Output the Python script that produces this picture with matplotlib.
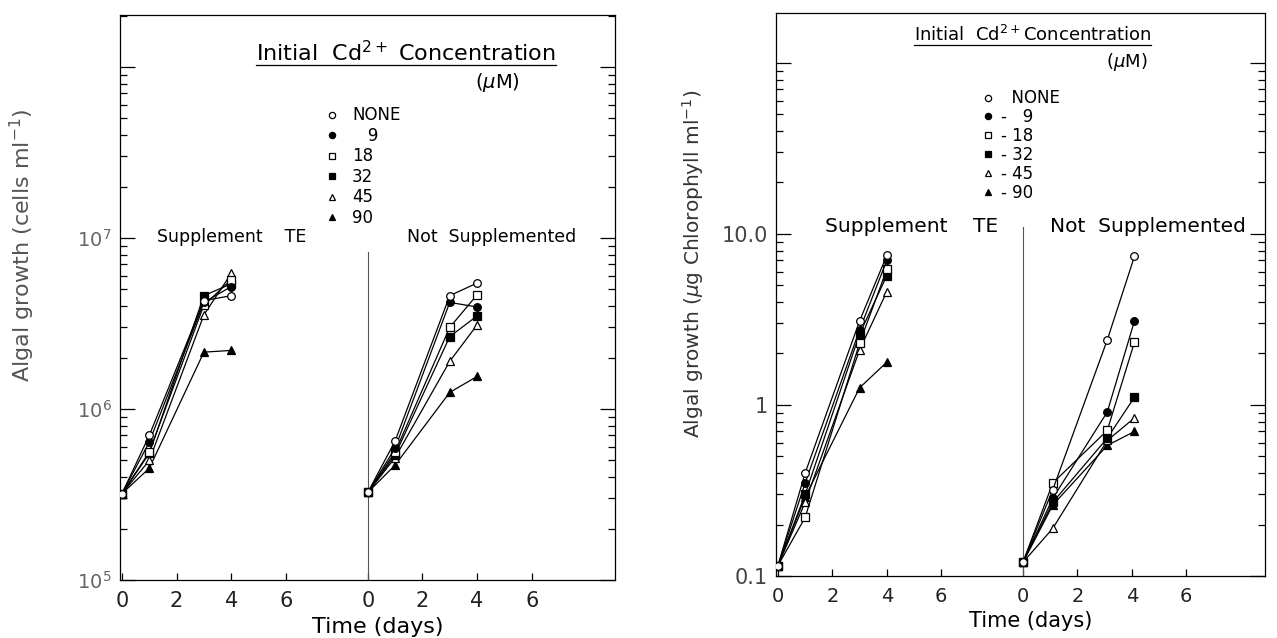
import matplotlib
matplotlib.use("Agg")
import matplotlib.pyplot as plt
from matplotlib.ticker import LogLocator, NullFormatter
from matplotlib.lines import Line2D

plt.rcParams['font.family'] = ['DejaVu Sans']
plt.rcParams['mathtext.fontset'] = 'dejavusans'

# time points (days)
days = [0, 1, 3, 4]
days_ns_chl = [0, 1.1, 3.1, 4.1]

conc_labels = ["NONE", "9", "18", "32", "45", "90"]

# cell counts (cells/ml) - supplement TE
cells_te_none = [3.2e5, 7.0e5, 4.3e6, 4.6e6]
cells_te_9 = [3.2e5, 6.4e5, 4.2e6, 5.2e6]
cells_te_18 = [3.2e5, 5.6e5, 4.05e6, 5.7e6]
cells_te_32 = [3.2e5, 5.5e5, 4.6e6, 5.4e6]
cells_te_45 = [3.2e5, 5.0e5, 3.55e6, 6.2e6]
cells_te_90 = [3.2e5, 4.5e5, 2.15e6, 2.2e6]

# cell counts - not supplemented
cells_ns_none = [3.25e5, 6.5e5, 4.6e6, 5.45e6]
cells_ns_9 = [3.25e5, 5.9e5, 4.2e6, 3.95e6]
cells_ns_18 = [3.25e5, 5.6e5, 3.0e6, 4.65e6]
cells_ns_32 = [3.25e5, 5.4e5, 2.65e6, 3.5e6]
cells_ns_45 = [3.25e5, 5.2e5, 1.9e6, 3.1e6]
cells_ns_90 = [3.25e5, 4.7e5, 1.25e6, 1.55e6]

# chlorophyll (ug/ml) - supplement TE
chl_te_none = [0.115, 0.40, 3.1, 7.5]
chl_te_9 = [0.115, 0.35, 2.75, 7.0]
chl_te_18 = [0.115, 0.22, 2.3, 6.2]
chl_te_32 = [0.115, 0.30, 2.6, 5.7]
chl_te_45 = [0.115, 0.27, 2.1, 4.6]
chl_te_90 = [0.115, 0.29, 1.26, 1.78]

# chlorophyll - not supplemented
chl_ns_none = [0.12, 0.32, 2.4, 7.4]
chl_ns_9 = [0.12, 0.285, 0.91, 3.1]
chl_ns_18 = [0.12, 0.35, 0.71, 2.33]
chl_ns_32 = [0.12, 0.27, 0.64, 1.11]
chl_ns_45 = [0.12, 0.19, 0.62, 0.84]
chl_ns_90 = [0.12, 0.26, 0.58, 0.70]

cells_te = [cells_te_none, cells_te_9, cells_te_18, cells_te_32, cells_te_45, cells_te_90]
cells_ns = [cells_ns_none, cells_ns_9, cells_ns_18, cells_ns_32, cells_ns_45, cells_ns_90]
chl_te = [chl_te_none, chl_te_9, chl_te_18, chl_te_32, chl_te_45, chl_te_90]
chl_ns = [chl_ns_none, chl_ns_9, chl_ns_18, chl_ns_32, chl_ns_45, chl_ns_90]

markers = ['o', 'o', 's', 's', '^', '^']
faces = ['white', 'black', 'white', 'black', 'white', 'black']
offset = 9  # second sub-panel starts 9 units to the right

fig = plt.figure(figsize=(12.77, 6.38), dpi=100)
ax1 = fig.add_axes([0.094, 0.0909, 0.3876, 0.8856])
ax2 = fig.add_axes([0.6077, 0.0972, 0.383, 0.8824])


def draw_series(ax, t, data_te, data_ns, t_ns):
    handles = []
    for i in range(6):
        ax.plot(t, data_te[i], color='black', lw=0.9, marker=markers[i],
                ms=5.5, mfc=faces[i], mec='black', mew=0.9, zorder=3 + (5 - i))
        ax.plot([d + offset for d in t_ns], data_ns[i], color='black', lw=0.9,
                marker=markers[i], ms=5.5, mfc=faces[i], mec='black', mew=0.9,
                zorder=3 + (5 - i))
        handles.append(Line2D([], [], ls='none', marker=markers[i], ms=4.5,
                              mfc=faces[i], mec='black', mew=0.9))
    return handles


def style_axes(ax, xmin, xmax, fs):
    ax.set_yscale('log')
    ax.set_xlim(xmin, xmax)
    ax.set_xticks([0, 2, 4, 6, offset, offset + 2, offset + 4, offset + 6])
    ax.set_xticklabels(['0', '2', '4', '6', '0', '2', '4', '6'], fontsize=fs, color='#222222')
    ax.yaxis.set_minor_locator(LogLocator(base=10, subs=range(2, 10), numticks=20))
    ax.yaxis.set_minor_formatter(NullFormatter())
    ax.tick_params(axis='y', which='major', direction='in', length=11, width=0.9,
                   right=True, pad=6)
    ax.tick_params(axis='y', which='minor', direction='in', length=5, width=0.9,
                   right=True)
    ax.tick_params(axis='x', direction='in', length=5, width=0.9, pad=8)
    for sp in ax.spines.values():
        sp.set_linewidth(0.9)


# ---- left panel: cell counts
h = draw_series(ax1, days, cells_te, cells_ns, days)
style_axes(ax1, -0.07, 18.05, 15)
ax1.set_ylim(1e5, 10 ** 8.304)
ax1.set_yticks([1e5, 1e6, 1e7, 1e8])
ax1.set_yticklabels(['$10^5$', '$10^6$', '$10^7$', ''], fontsize=14, color='#666666')
ax1.axvline(offset, ymin=0, ymax=0.58, color='#555555', lw=0.8)
ax1.set_xlabel('Time (days)', fontsize=16)
ax1.xaxis.set_label_coords(0.521, -0.066)
ax1.set_ylabel('Algal growth (cells ml$^{-1}$)', fontsize=16, color='#555555')
ax1.yaxis.set_label_coords(-0.168, 0.593)
ax1.text(0.075, 0.607, 'Supplement    TE', transform=ax1.transAxes, fontsize=12.5, va='center')
ax1.text(0.58, 0.607, 'Not  Supplemented', transform=ax1.transAxes, fontsize=12.5, va='center')
t1 = ax1.text(0.275, 0.933, 'Initial  Cd$^{2+}$ Concentration', transform=ax1.transAxes,
              fontsize=16, va='center')
ax1.text(0.717, 0.88, '($\\mu$M)', transform=ax1.transAxes, fontsize=14, va='center')
labels_left = ["NONE", "\u2007 9", "18", "32", "45", "90"]
ax1.legend(h, labels_left, loc='upper left', bbox_to_anchor=(0.405, 0.85),
           frameon=False, handlelength=0.6, handletextpad=0.9, labelspacing=0.15,
           fontsize=12, borderaxespad=0)

# ---- right panel: chlorophyll
h2 = draw_series(ax2, days, chl_te, chl_ns, days_ns_chl)
style_axes(ax2, -0.07, 17.9, 14)
ax2.set_ylim(0.1, 10 ** 2.292)
ax2.set_yticks([0.1, 1, 10, 100])
ax2.set_yticklabels(['0.1', '1', '10.0', ''], fontsize=15, color='#444444')
ax2.axvline(offset, ymin=0, ymax=0.62, color='#555555', lw=0.8)
ax2.set_xlabel('Time (days)', fontsize=15)
ax2.xaxis.set_label_coords(0.52, -0.062)
ax2.set_ylabel('Algal growth ($\\mu$g Chlorophyll ml$^{-1}$)', fontsize=14.5, color='#333333')
ax2.yaxis.set_label_coords(-0.143, 0.554)
ax2.text(0.10, 0.62, 'Supplement    TE', transform=ax2.transAxes, fontsize=14.5, va='center')
ax2.text(0.56, 0.62, 'Not  Supplemented', transform=ax2.transAxes, fontsize=14.5, va='center')
t2 = ax2.text(0.282, 0.961, 'Initial  Cd$^{2+}$Concentration', transform=ax2.transAxes,
              fontsize=13, va='center')
ax2.text(0.675, 0.913, '($\\mu$M)', transform=ax2.transAxes, fontsize=13, va='center')
labels_right = ["  NONE", "- \u20079", "- 18", "- 32", "- 45", "- 90"]
ax2.legend(h2, labels_right, loc='upper left', bbox_to_anchor=(0.409, 0.876),
           frameon=False, handlelength=0.6, handletextpad=0.5, labelspacing=0.05,
           fontsize=12, borderaxespad=0)

# underline the legend titles
fig.canvas.draw()
renderer = fig.canvas.get_renderer()
for ax, t in [(ax1, t1), (ax2, t2)]:
    bb = t.get_window_extent(renderer).transformed(ax.transAxes.inverted())
    ax.plot([bb.x0, bb.x1], [bb.y0, bb.y0], transform=ax.transAxes,
            color='black', lw=0.9, clip_on=False)

fig.savefig('out.png', dpi=100)
